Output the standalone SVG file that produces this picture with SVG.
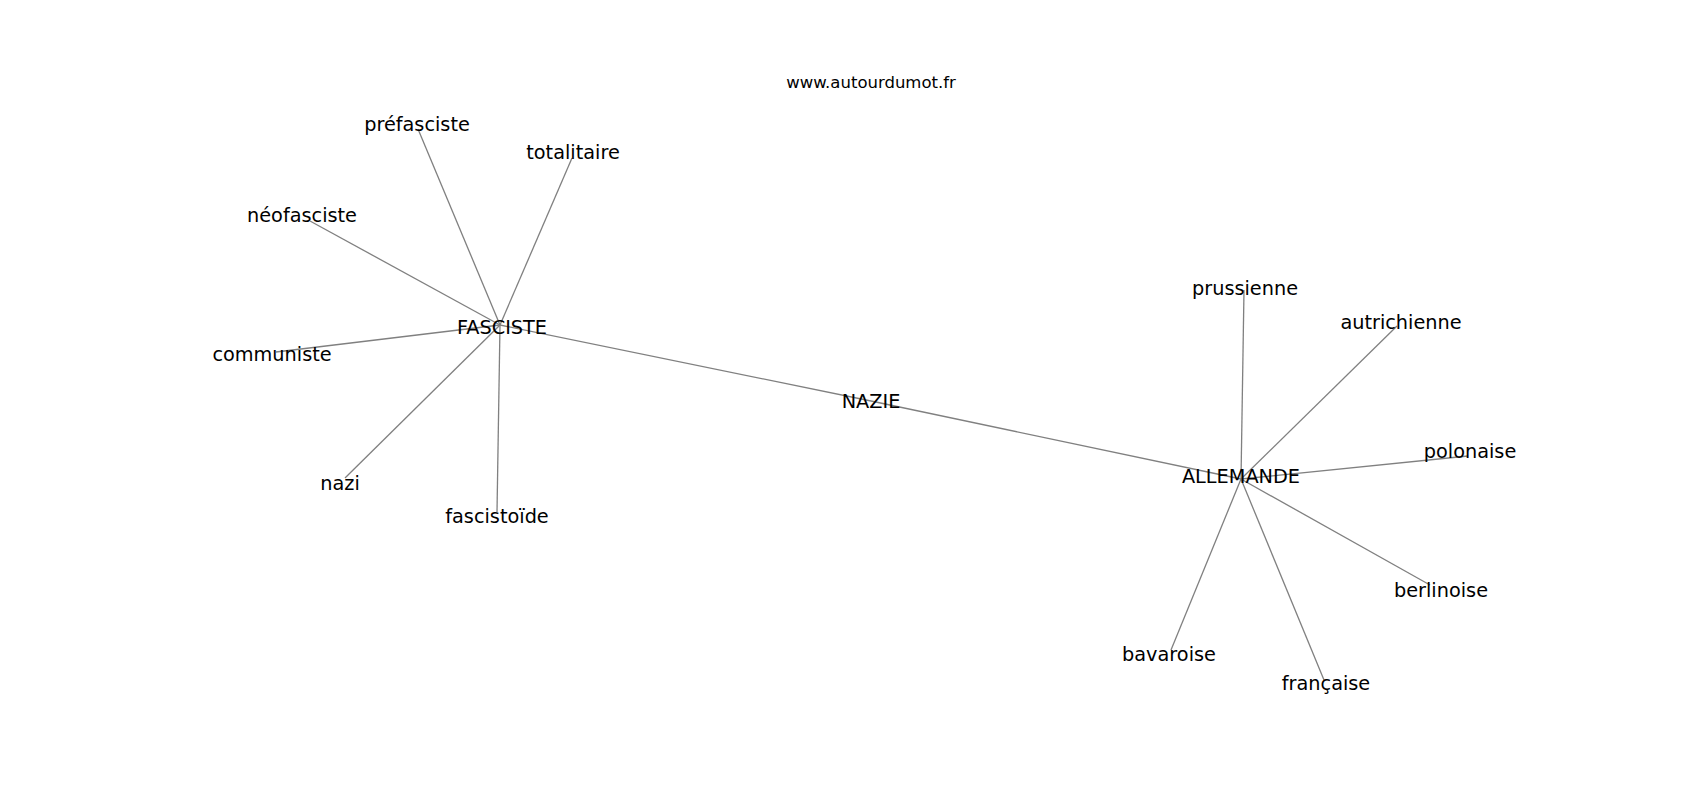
<svg xmlns="http://www.w3.org/2000/svg" width="1700" height="800" viewBox="0 0 1700 800">
<style>
.bg{fill:#ffffff}
.edge{stroke:#808080;stroke-width:1.3;fill:none}
.lbl{font-family:"DejaVu Sans",sans-serif;font-size:19.3px;fill:#000000;text-anchor:middle}
.title{font-family:"DejaVu Sans",sans-serif;font-size:16.5px;fill:#000000;text-anchor:middle}
</style>
<rect class="bg" x="0" y="0" width="1700" height="800"/>
<text class="title" x="871" y="88">www.autourdumot.fr</text>
<g id="edges">
<line class="edge" x1="500" y1="325" x2="871" y2="401"/>
<line class="edge" x1="871" y1="401" x2="1241" y2="479"/>
<line class="edge" x1="500" y1="325" x2="418" y2="129"/>
<line class="edge" x1="500" y1="325" x2="572" y2="158"/>
<line class="edge" x1="500" y1="325" x2="310" y2="221"/>
<line class="edge" x1="500" y1="325" x2="276" y2="352"/>
<line class="edge" x1="500" y1="325" x2="345" y2="478"/>
<line class="edge" x1="500" y1="325" x2="497" y2="512"/>
<line class="edge" x1="1241" y1="479" x2="1244" y2="290"/>
<line class="edge" x1="1241" y1="479" x2="1397" y2="326"/>
<line class="edge" x1="1241" y1="479" x2="1468" y2="456"/>
<line class="edge" x1="1241" y1="479" x2="1430" y2="585"/>
<line class="edge" x1="1241" y1="479" x2="1171" y2="650"/>
<line class="edge" x1="1241" y1="479" x2="1324" y2="680"/>
</g>
<g id="n-fasciste"><text class="lbl" x="502" y="334">FASCISTE</text></g>
<g id="n-nazie"><text class="lbl" x="871" y="408">NAZIE</text></g>
<g id="n-allemande"><text class="lbl" x="1241" y="483">ALLEMANDE</text></g>
<g id="n-prefasciste"><text class="lbl" x="417" y="131">préfasciste</text></g>
<g id="n-totalitaire"><text class="lbl" x="573" y="159">totalitaire</text></g>
<g id="n-neofasciste"><text class="lbl" x="302" y="222">néofasciste</text></g>
<g id="n-communiste"><text class="lbl" x="272" y="361">communiste</text></g>
<g id="n-nazi"><text class="lbl" x="340" y="490">nazi</text></g>
<g id="n-fascistoide"><text class="lbl" x="497" y="523">fascistoïde</text></g>
<g id="n-prussienne"><text class="lbl" x="1245" y="295">prussienne</text></g>
<g id="n-autrichienne"><text class="lbl" x="1401" y="329">autrichienne</text></g>
<g id="n-polonaise"><text class="lbl" x="1470" y="458">polonaise</text></g>
<g id="n-berlinoise"><text class="lbl" x="1441" y="597">berlinoise</text></g>
<g id="n-bavaroise"><text class="lbl" x="1169" y="661">bavaroise</text></g>
<g id="n-francaise"><text class="lbl" x="1326" y="690">française</text></g>
</svg>
